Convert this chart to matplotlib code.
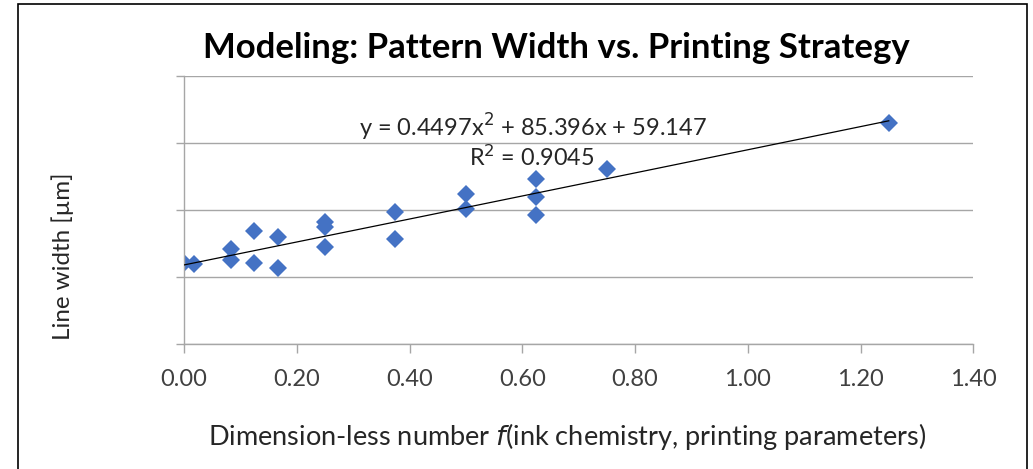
import matplotlib
matplotlib.use("Agg")
import numpy as np
import matplotlib.pyplot as plt
from matplotlib.patches import Rectangle

plt.rcParams['font.family'] = ['Lato', 'DejaVu Sans']

# data
x_vals = [0.0, 0.017, 0.083, 0.083, 0.125, 0.125, 0.167, 0.167,
          0.25, 0.25, 0.25, 0.375, 0.375, 0.5, 0.5,
          0.625, 0.625, 0.625, 0.75, 1.25]
y_vals = [60.4, 59.9, 70.8, 62.8, 84.7, 60.4, 80.2, 56.7,
          91.2, 87.7, 72.8, 98.8, 78.5, 111.8, 100.6,
          123.2, 110.0, 96.4, 130.4, 164.7]
trend_coef = [0.4497, 85.396, 59.147]   # x^2, x, const (from the chart label)
r_squared = 0.9045
x_ticks = [0.0, 0.2, 0.4, 0.6, 0.8, 1.0, 1.2, 1.4]
y_ticks = [0, 50, 100, 150, 200]

W, H = 1033, 469
fig = plt.figure(figsize=(W / 100, H / 100), dpi=100)
ax = fig.add_axes([184 / W, 1 - 344.3 / H, (973.3 - 184) / W, (344.3 - 76) / H])

grey = '#a6a6a6'
ax.set_xlim(0, 1.4)
ax.set_ylim(0, 200)
ax.set_xticks(x_ticks)
ax.set_xticklabels([f"{t:.2f}" for t in x_ticks], fontsize=17, color='#404040')
ax.set_yticks(y_ticks)
ax.set_yticklabels([])
ax.tick_params(axis='x', length=6.5, width=1, color=grey, pad=11)
ax.tick_params(axis='y', length=6, width=1, color=grey)
ax.yaxis.grid(True, color=grey, lw=1)
ax.set_axisbelow(True)
for s in ['top', 'right']:
    ax.spines[s].set_visible(False)
for s in ['left', 'bottom']:
    ax.spines[s].set_color(grey)
    ax.spines[s].set_linewidth(1)

# trendline
xt = np.linspace(min(x_vals), max(x_vals), 200)
yt = np.polyval(trend_coef, xt)
ax.plot(xt, yt, color='black', lw=0.9, zorder=3)

ax.plot(x_vals, y_vals, linestyle='none', marker='D', ms=9.2,
        color='#4472c4', markeredgewidth=0, zorder=2)

eq = (f"y = {trend_coef[0]}x$^2$ + {trend_coef[1]}x + {trend_coef[2]}")
fig.text(533 / W, 1 - 127 / H, eq, fontsize=17, color='#262626',
         ha='center', va='center')
fig.text(532 / W, 1 - 157 / H, f"R$^2$ = {r_squared}", fontsize=16.8,
         color='#262626', ha='center', va='center')

fig.text(556 / W, 1 - 48 / H, "Modeling: Pattern Width vs. Printing Strategy",
         fontsize=25, fontweight='bold', color='black', ha='center', va='center')
fig.text(63 / W, 1 - 256 / H, "Line width [\u00b5m]", fontsize=17.4, rotation=90,
         color='#262626', ha='center', va='center')
fig.text(567 / W, 1 - 436 / H,
         "Dimension-less number $\\it{f}$(ink chemistry, printing parameters)",
         fontsize=19.5, color='#262626', ha='center', va='center')

fig.add_artist(Rectangle((18 / W, -0.05), (1027 - 18) / W, (469 - 4.5) / H + 0.05,
                         transform=fig.transFigure, fill=False, ec='black', lw=1.2))

fig.savefig("out.png", dpi=100)
